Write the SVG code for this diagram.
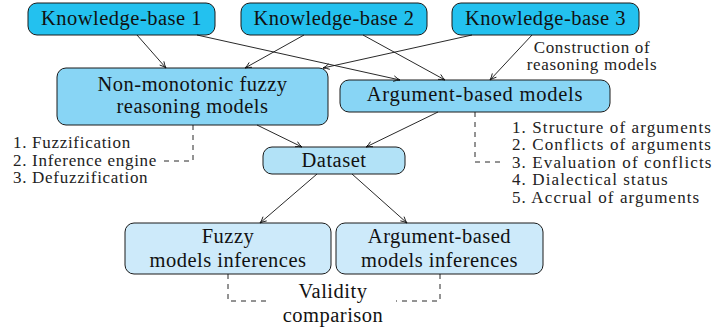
<svg xmlns="http://www.w3.org/2000/svg" width="713" height="331" viewBox="0 0 713 331">
  <defs>
    <style>
      .box { stroke: #1a1a1a; stroke-width: 1; }
      .kb { fill: #23c1ef; }
      .model { fill: #88d5f5; }
      .data { fill: #b2e2f7; }
      .inf { fill: #cdeafa; }
      .t { font-size: 20.5px; letter-spacing: 0.5px; fill: #111; text-anchor: middle; }
      .s { font-size: 17px; letter-spacing: 0.7px; fill: #222; }
      .wide { letter-spacing: 1.1px; }
      .edge { fill: none; stroke: #111; stroke-width: 0.9; marker-end: url(#arrow); }
      .dash { fill: none; stroke: #111; stroke-width: 0.9; stroke-dasharray: 5 5; }
    </style>
    <marker id="arrow" viewBox="0 0 10 10" refX="9" refY="5" markerWidth="8" markerHeight="8" markerUnits="userSpaceOnUse" orient="auto">
      <path d="M1,1.5 Q5,4 9,5 Q5,6 1,8.5" fill="none" stroke="#111" stroke-width="1.1"/>
    </marker>
  </defs>

  <g font-family="'Liberation Serif', 'Times New Roman', Tinos, 'DejaVu Serif', serif">
  <!-- knowledge bases -->
  <g id="kb1">
    <rect class="box kb" x="28" y="3" width="187" height="32" rx="9"/>
    <text class="t" x="121.5" y="24.5">Knowledge-base 1</text>
  </g>
  <g id="kb2">
    <rect class="box kb" x="241" y="3" width="186" height="32" rx="9"/>
    <text class="t" x="334" y="24.5">Knowledge-base 2</text>
  </g>
  <g id="kb3">
    <rect class="box kb" x="452" y="3" width="187" height="32" rx="9"/>
    <text class="t" x="545.5" y="24.5">Knowledge-base 3</text>
  </g>

  <!-- reasoning models -->
  <g id="fuzzy-models">
    <rect class="box model" x="57" y="68" width="271" height="57" rx="9"/>
    <text class="t" x="192.5" y="91">Non-monotonic fuzzy</text>
    <text class="t" x="192.5" y="113">reasoning models</text>
  </g>
  <g id="argument-models">
    <rect class="box model" x="340" y="80" width="270" height="32" rx="9"/>
    <text class="t" x="475" y="101" style="letter-spacing:0.75px">Argument-based models</text>
  </g>

  <g id="dataset">
    <rect class="box data" x="263" y="147" width="142" height="27" rx="9"/>
    <text class="t" x="334" y="167">Dataset</text>
  </g>

  <g id="fuzzy-inferences">
    <rect class="box inf" x="125" y="223" width="206" height="51" rx="9"/>
    <text class="t" x="228" y="243">Fuzzy</text>
    <text class="t" x="228" y="267">models inferences</text>
  </g>
  <g id="argument-inferences">
    <rect class="box inf" x="336" y="223" width="207" height="51" rx="9"/>
    <text class="t" x="439.5" y="243">Argument-based</text>
    <text class="t" x="439.5" y="267">models inferences</text>
  </g>

  <!-- annotations -->
  <g id="construction-label">
    <text class="s" x="592" y="53" text-anchor="middle">Construction of</text>
    <text class="s" x="592" y="70" text-anchor="middle">reasoning models</text>
  </g>
  <g id="fuzzy-steps">
    <text class="s" x="13" y="148">1. Fuzzification</text>
    <text class="s" x="13" y="166">2. Inference engine</text>
    <text class="s" x="13" y="183">3. Defuzzification</text>
  </g>
  <g id="argument-steps">
    <text class="s wide" x="512" y="133">1. Structure of arguments</text>
    <text class="s wide" x="512" y="150">2. Conflicts of arguments</text>
    <text class="s wide" x="512" y="167.5">3. Evaluation of conflicts</text>
    <text class="s wide" x="512" y="185">4. Dialectical status</text>
    <text class="s wide" x="512" y="202.5">5. Accrual of arguments</text>
  </g>
  <g id="validity-label">
    <text class="t" x="333" y="298">Validity</text>
    <text class="t" x="333" y="322">comparison</text>
  </g>
  </g>

  <!-- connectors -->
  <g id="connectors">
    <line class="edge" x1="137" y1="35" x2="166" y2="68"/>
    <line class="edge" x1="197" y1="35" x2="400" y2="80"/>
    <line class="edge" x1="304" y1="35" x2="245" y2="68"/>
    <line class="edge" x1="363" y1="35" x2="445" y2="80"/>
    <line class="edge" x1="472" y1="35" x2="323" y2="68"/>
    <line class="edge" x1="532" y1="35" x2="490" y2="80"/>
    <line class="edge" x1="257" y1="125" x2="302" y2="147"/>
    <line class="edge" x1="438" y1="112" x2="366" y2="147"/>
    <line class="edge" x1="317" y1="174" x2="260" y2="223"/>
    <line class="edge" x1="352" y1="174" x2="407" y2="223"/>
    <path class="dash" d="M193,125 V161 H163"/>
    <path class="dash" d="M475,112 V162 H505"/>
    <path class="dash" d="M228,274 V301 H270"/>
    <path class="dash" d="M440,274 V301 H396"/>
  </g>
</svg>
